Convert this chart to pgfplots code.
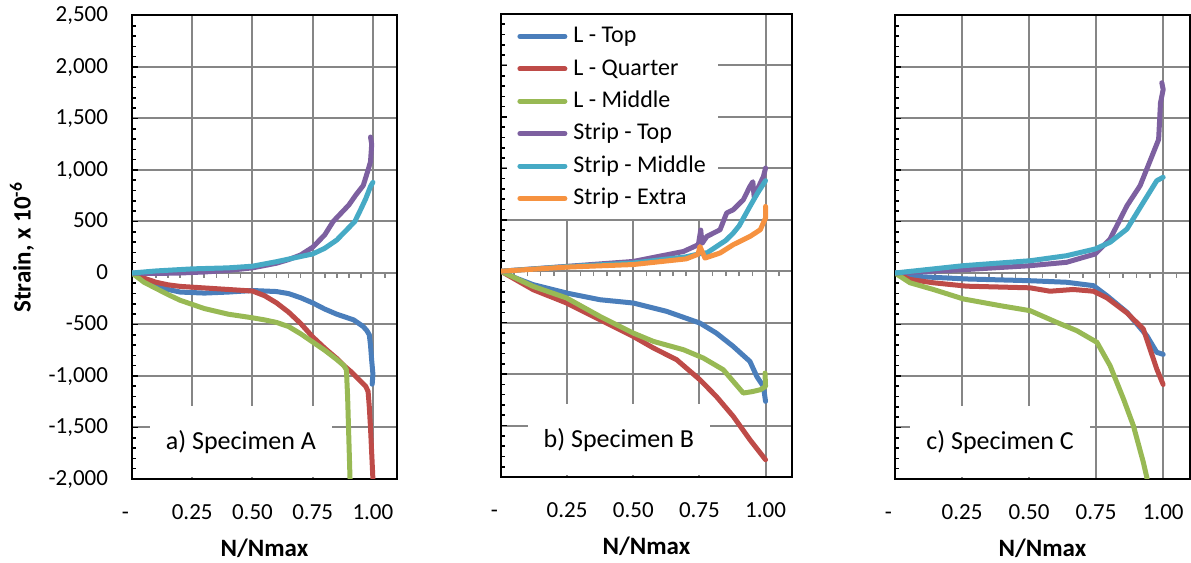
\documentclass[border=0pt]{standalone}
\usepackage{fontspec}
\setmainfont{Carlito}
\usepackage{pgfplots}
\pgfplotsset{compat=1.18}

\definecolor{cBlue}{RGB}{74,126,187}
\definecolor{cRed}{RGB}{190,75,72}
\definecolor{cGreen}{RGB}{152,185,84}
\definecolor{cPurple}{RGB}{125,96,160}
\definecolor{cCyan}{RGB}{70,170,197}
\definecolor{cOrange}{RGB}{246,146,64}
\definecolor{gridgray}{RGB}{134,134,134}

\tikzset{spec/.style={fill=white, anchor=south, minimum height=35.5pt, inner xsep=8pt,
    yshift=0.6pt, font=\fontsize{13}{15}\selectfont}}

\pgfplotsset{
  panel/.style={
    scale only axis, anchor=south west,
    xmin=0, xmax=1.1, ymin=-2000, ymax=2500,
    xtick={0,0.25,0.5,0.75,1},
    xticklabels={\makebox[0pt][r]{-\hspace{1.5pt}},0.25,0.50,0.75,1.00},
    ytick={-2000,-1500,-1000,-500,0,500,1000,1500,2000,2500},
    minor y tick num=4,
    ytick pos=left,
    tick align=inside,
    xtick style={draw=none},
    ytick style={draw=black, line width=0.8pt},
    major tick length=3pt, minor tick length=2.2pt,
    grid=major,
    major grid style={draw=gridgray, line width=1pt},
    axis line style={draw=black, line width=1pt},
    ticklabel style={font=\fontsize{11.5}{13}\selectfont},
    xticklabel style={anchor=center, text height=0.65em, text depth=0pt, yshift=-17pt},
    yticklabel style={anchor=east, inner sep=0pt, text height=0.65em, text depth=0pt, xshift=-11.8pt},
    every axis x label/.style={at={(axis description cs:0.5,0)}, anchor=center,
      yshift=-34.5pt, font=\bfseries\fontsize{12.5}{14}\selectfont},
    every axis y label/.style={at={(axis description cs:0,0.5)}, xshift=-55pt,
      rotate=90, anchor=center, font=\bfseries\fontsize{12.5}{14}\selectfont},
    xlabel={N/Nmax},
    every axis plot/.append style={line width=2.5pt, line join=round, line cap=round},
  },
  zline/.style={
    scale only axis, anchor=south west,
    xmin=0, xmax=1.1, ymin=-2000, ymax=2500,
    axis x line=middle, axis y line=none,
    every inner x axis line/.append style={-},
    x axis line style={-, draw=gridgray, line width=1pt},
    xtick={0.05,0.1,0.15,0.2,0.25,0.3,0.35,0.4,0.45,0.5,0.55,0.6,0.65,0.7,0.75,0.8,0.85,0.9,0.95,1,1.05},
    xticklabels={}, ytick=\empty,
    tick align=center, major tick length=2.4pt,
    xtick style={draw=gridgray, line width=0.8pt, yshift=-1.2pt},
  },
}

\begin{document}
\begin{tikzpicture}
\useasboundingbox (0,0) rectangle (595.5pt,281.5pt);

% ---------- a) Specimen A ----------
\begin{axis}[zline, at={(66pt,42pt)}, width=132.5pt, height=231.75pt]
\addplot[draw=none, forget plot] coordinates {(0,0)};
\end{axis}
\begin{axis}[panel, at={(66pt,42pt)}, width=132.5pt, height=231.75pt,
  yticklabels={{-2,000},{-1,500},{-1,000},{-500},0,500,{1,000},{1,500},{2,000},{2,500}},
  ylabel={Strain, x 10\textsuperscript{-6}}]
\node[spec] at (rel axis cs:0.411,0) {a) Specimen A};
\addplot[cBlue] coordinates {(0,0) (0.05,-60) (0.1,-120) (0.15,-160) (0.2,-185) (0.3,-195) (0.4,-185) (0.5,-170) (0.6,-180) (0.65,-200) (0.7,-240) (0.75,-290) (0.8,-350) (0.85,-400) (0.92,-455) (0.96,-520) (0.975,-560) (0.985,-600) (0.99,-700) (0.995,-850) (1.0,-980) (0.997,-1080)};
\addplot[cRed] coordinates {(0,0) (0.05,-50) (0.1,-90) (0.15,-115) (0.2,-130) (0.3,-145) (0.4,-160) (0.5,-175) (0.55,-220) (0.6,-290) (0.65,-380) (0.7,-490) (0.75,-620) (0.8,-730) (0.85,-830) (0.88,-900) (0.91,-960) (0.94,-1030) (0.97,-1100) (0.98,-1150) (0.985,-1300) (0.99,-1500) (0.995,-1750) (1.0,-2000)};
\addplot[cGreen] coordinates {(0,0) (0.05,-90) (0.1,-150) (0.15,-210) (0.2,-265) (0.25,-305) (0.3,-345) (0.4,-400) (0.5,-435) (0.55,-455) (0.6,-480) (0.65,-520) (0.7,-590) (0.75,-670) (0.8,-750) (0.85,-840) (0.88,-900) (0.89,-940) (0.895,-1200) (0.9,-1600) (0.905,-2000)};
\addplot[cPurple] coordinates {(0,0) (0.1,-5) (0.2,0) (0.3,10) (0.4,25) (0.5,50) (0.6,95) (0.65,130) (0.7,175) (0.75,250) (0.8,370) (0.835,500) (0.9,660) (0.93,760) (0.96,850) (0.98,1000) (0.99,1080) (0.995,1250) (0.99,1320)};
\addplot[cCyan] coordinates {(0,0) (0.05,10) (0.1,20) (0.25,40) (0.4,50) (0.5,66) (0.6,110) (0.7,160) (0.75,185) (0.8,240) (0.85,320) (0.9,440) (0.925,500) (0.95,620) (0.97,720) (0.99,840) (1.0,880)};
\end{axis}

% ---------- b) Specimen B ----------
\begin{axis}[zline, at={(250.5pt,43pt)}, width=145.5pt, height=231.5pt]
\addplot[draw=none, forget plot] coordinates {(0,0)};
\end{axis}
\begin{axis}[panel, at={(250.5pt,43pt)}, width=145.5pt, height=231.5pt,
  yticklabels={},
  legend cell align=left,
  legend image code/.code={\draw[#1, line width=2.5pt, line cap=round] (0pt,0pt) -- (22.5pt,0pt);},
  legend style={at={(rel axis cs:0,1)}, anchor=north west, xshift=3pt, yshift=-0.5pt,
    draw=none, fill=white, inner xsep=5pt, inner ysep=4pt, row sep=3.2pt,
    font=\fontsize{12}{14}\selectfont,
    nodes={inner sep=1pt, text height=8.6pt, text depth=2.4pt},
    /tikz/every odd column/.append style={column sep=2pt}}]
\node[spec] at (rel axis cs:0.405,0) {b) Specimen B};
\addplot[cBlue] coordinates {(0,0) (0.06,-70) (0.122,-131) (0.248,-212) (0.374,-277) (0.5,-309) (0.626,-390) (0.752,-504) (0.814,-601) (0.878,-731) (0.941,-877) (0.967,-1023) (0.992,-1120) (1.0,-1265)};
\addlegendentry{L - Top}
\addplot[cRed] coordinates {(0,0) (0.122,-180) (0.248,-309) (0.374,-471) (0.5,-634) (0.576,-746) (0.664,-860) (0.752,-1055) (0.814,-1217) (0.878,-1411) (0.941,-1638) (1.0,-1832)};
\addlegendentry{L - Quarter}
\addplot[cGreen] coordinates {(0,0) (0.122,-148) (0.248,-260) (0.374,-439) (0.5,-601) (0.576,-682) (0.69,-763) (0.765,-844) (0.84,-957) (0.916,-1184) (0.95,-1170) (0.98,-1152) (1.0,-1120) (0.998,-990)};
\addlegendentry{L - Middle}
\addplot[cPurple] coordinates {(0,0) (0.248,47) (0.5,95) (0.69,192) (0.746,258) (0.755,400) (0.76,270) (0.778,338) (0.828,403) (0.853,566) (0.878,598) (0.916,695) (0.941,824) (0.952,870) (0.957,720) (0.97,800) (0.992,921) (1.0,1003)};
\addlegendentry{Strip - Top}
\addplot[cCyan] coordinates {(0,0) (0.25,45) (0.5,80) (0.7,140) (0.75,170) (0.78,180) (0.8,215) (0.85,300) (0.878,371) (0.9,440) (0.941,630) (0.97,760) (1.0,880)};
\addlegendentry{Strip - Middle}
\addplot[cOrange] coordinates {(0,0) (0.25,40) (0.5,65) (0.7,120) (0.745,165) (0.752,241) (0.771,128) (0.828,177) (0.878,258) (0.941,338) (0.98,403) (1.0,517) (1.0,630)};
\addlegendentry{Strip - Extra}
\end{axis}

% ---------- c) Specimen C ----------
\begin{axis}[zline, at={(447.5pt,42pt)}, width=147.5pt, height=231.75pt]
\addplot[draw=none, forget plot] coordinates {(0,0)};
\end{axis}
\begin{axis}[panel, at={(447.5pt,42pt)}, width=147.5pt, height=231.75pt,
  yticklabels={}]
\node[spec] at (rel axis cs:0.356,0) {c) Specimen C};
\addplot[cBlue] coordinates {(0,0) (0.056,-30) (0.143,-42) (0.268,-58) (0.504,-75) (0.64,-90) (0.74,-123) (0.79,-220) (0.865,-382) (0.939,-609) (0.976,-770) (1.0,-790)};
\addplot[cRed] coordinates {(0,0) (0.056,-63) (0.143,-95) (0.268,-128) (0.504,-144) (0.578,-177) (0.664,-160) (0.74,-177) (0.79,-241) (0.865,-387) (0.926,-544) (0.951,-738) (0.976,-932) (1.0,-1083)};
\addplot[cGreen] coordinates {(0,0) (0.056,-95) (0.143,-160) (0.255,-252) (0.392,-317) (0.504,-366) (0.603,-479) (0.678,-560) (0.753,-673) (0.802,-900) (0.852,-1223) (0.889,-1483) (0.926,-1838) (0.939,-1984) (0.942,-2050)};
\addplot[cPurple] coordinates {(0,0) (0.255,32) (0.504,71) (0.64,104) (0.703,152) (0.746,184) (0.802,330) (0.865,653) (0.914,848) (0.964,1172) (0.983,1296) (0.99,1653) (1.0,1782) (0.995,1847)};
\addplot[cCyan] coordinates {(0,0) (0.255,71) (0.504,119) (0.64,168) (0.746,233) (0.802,298) (0.865,427) (0.926,686) (0.976,896) (1.0,930)};
\end{axis}
\end{tikzpicture}
\end{document}
